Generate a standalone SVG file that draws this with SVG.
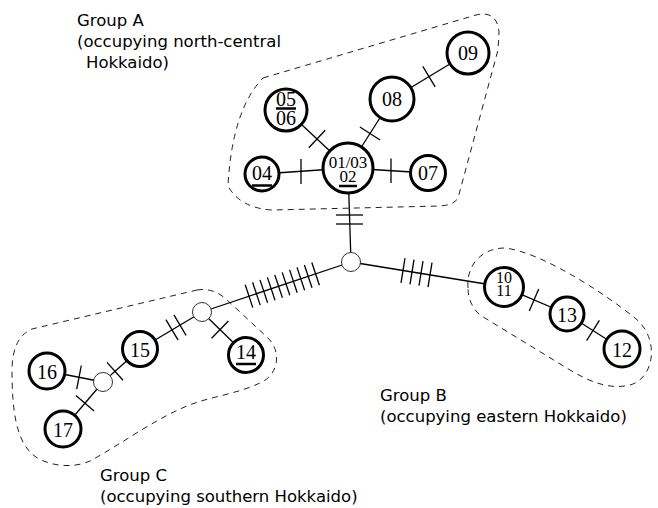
<svg xmlns="http://www.w3.org/2000/svg" width="658" height="508" viewBox="0 0 658 508">
<style>
.edge{stroke:#000;stroke-width:1.3;fill:none}
.tick{stroke:#000;stroke-width:1.3;fill:none}
.hap{fill:#fff;stroke:#000;stroke-width:3}
.med{fill:#fff;stroke:#333;stroke-width:1}
.num{font-family:"Liberation Serif","Times New Roman",serif;font-size:20px;fill:#000;text-anchor:middle}
.ul{stroke:#000;stroke-width:2.5}
.grp{fill:none;stroke:#222;stroke-width:1;stroke-dasharray:6,5}
.lbl{font-family:"DejaVu Sans",sans-serif;font-size:16.5px;fill:#000}
</style>
<rect width="658" height="508" fill="#fff"/>
<g id="outlines">
<path class="grp" d="M263,78 L476,15 Q497,10 499,32 L498,50 L458,198 Q454,205 440,206 L272,210 Q240,208 228,186 Q232,110 263,78 Z"/>
<path class="grp" d="M468,288 C466,265 482,248 505,248 C540,252 600,290 635,318 C660,338 655,378 630,385 C610,390 590,382 570,370 L480,315 C472,308 468,298 468,288 Z"/>
<path class="grp" d="M197,290 C208,288 218,292 226,299 L268,338 C282,352 278,374 262,382 C240,393 215,396 195,403 C160,415 120,445 90,461 C70,470 42,465 30,452 C16,437 12,410 12,370 C12,350 18,335 32,329 L197,290 Z"/>
</g>
<g id="connectors">
<line class="edge" x1="348" y1="168" x2="262" y2="174"/>
<line class="edge" x1="348" y1="168" x2="428" y2="173"/>
<line class="edge" x1="348" y1="168" x2="286" y2="110"/>
<line class="edge" x1="348" y1="168" x2="392" y2="99"/>
<line class="edge" x1="392" y1="99" x2="468" y2="53"/>
<line class="edge" x1="348" y1="168" x2="351" y2="262"/>
<line class="edge" x1="351" y1="262" x2="504" y2="287"/>
<line class="edge" x1="504" y1="287" x2="567" y2="314"/>
<line class="edge" x1="567" y1="314" x2="622" y2="349"/>
<line class="edge" x1="351" y1="262" x2="202" y2="312"/>
<line class="edge" x1="202" y1="312" x2="246" y2="355"/>
<line class="edge" x1="202" y1="312" x2="140" y2="349"/>
<line class="edge" x1="140" y1="349" x2="103" y2="382"/>
<line class="edge" x1="103" y1="382" x2="47" y2="371"/>
<line class="edge" x1="103" y1="382" x2="63" y2="429"/>
<!-- ticks -->
<line class="tick" x1="301" y1="159" x2="301" y2="184"/>
<line class="tick" x1="391" y1="158.5" x2="391" y2="183"/>
<line class="tick" x1="308.8" y1="147.8" x2="325.2" y2="130.2"/>
<line class="tick" x1="359.9" y1="127" x2="380.1" y2="140"/>
<line class="tick" x1="422.8" y1="66.3" x2="435.2" y2="86.9"/>
<line class="tick" x1="336" y1="215" x2="363" y2="215"/>
<line class="tick" x1="336" y1="224" x2="363" y2="224"/>
<line class="tick" x1="405" y1="258.2" x2="401" y2="282.8"/>
<line class="tick" x1="414" y1="259.7" x2="410" y2="284.3"/>
<line class="tick" x1="423" y1="261.1" x2="419" y2="285.7"/>
<line class="tick" x1="432" y1="262.6" x2="428" y2="287.2"/>
<line class="tick" x1="538.7" y1="288.9" x2="529.3" y2="310.9"/>
<line class="tick" x1="599.4" y1="320.4" x2="586.6" y2="340.6"/>
<line class="tick" x1="245.2" y1="284.8" x2="252.8" y2="307.6"/>
<line class="tick" x1="252.6" y1="282.3" x2="260.2" y2="305.1"/>
<line class="tick" x1="260" y1="279.9" x2="267.6" y2="302.7"/>
<line class="tick" x1="267.4" y1="277.4" x2="275" y2="300.2"/>
<line class="tick" x1="274.8" y1="274.9" x2="282.4" y2="297.7"/>
<line class="tick" x1="282.2" y1="272.4" x2="289.8" y2="295.2"/>
<line class="tick" x1="289.6" y1="269.9" x2="297.2" y2="292.7"/>
<line class="tick" x1="297" y1="267.4" x2="304.6" y2="290.2"/>
<line class="tick" x1="304.4" y1="265" x2="312" y2="287.8"/>
<line class="tick" x1="311.8" y1="262.5" x2="319.4" y2="285.3"/>
<line class="tick" x1="211.6" y1="338.2" x2="228.4" y2="321"/>
<line class="tick" x1="165.9" y1="319.6" x2="178.1" y2="340.2"/>
<line class="tick" x1="173.9" y1="314.8" x2="186.1" y2="335.4"/>
<line class="tick" x1="107" y1="362.4" x2="123" y2="380.2"/>
<line class="tick" x1="81.3" y1="365.5" x2="76.7" y2="389.1"/>
<line class="tick" x1="75.9" y1="395.4" x2="94.1" y2="411"/>
</g>
<g id="n09"><circle class="hap" cx="468" cy="53" r="21"/><text class="num" x="468" y="60">09</text></g>
<g id="n08"><circle class="hap" cx="392" cy="99" r="22"/><text class="num" x="392" y="106">08</text></g>
<g id="n0506"><circle class="hap" cx="286" cy="110" r="21"/><text class="num" x="286" y="106">05</text><line class="ul" x1="276" y1="108.5" x2="296" y2="108.5"/><text class="num" x="286" y="124.5">06</text></g>
<g id="n0103"><circle class="hap" cx="348" cy="168" r="25"/><text class="num" x="348" y="168" style="font-size:17px">01/03</text><text class="num" x="348" y="182" style="font-size:17px">02</text><line class="ul" x1="339" y1="186" x2="357" y2="186"/></g>
<g id="n04"><circle class="hap" cx="262" cy="174" r="17"/><text class="num" x="262" y="180">04</text><line class="ul" x1="252" y1="185.5" x2="272" y2="185.5"/></g>
<g id="n07"><circle class="hap" cx="428" cy="173" r="17.5"/><text class="num" x="428" y="180">07</text></g>
<g id="m1"><circle class="med" cx="351" cy="262" r="9.5"/></g>
<g id="n1011"><circle class="hap" cx="504" cy="287" r="19.5"/><text class="num" x="504" y="283" style="font-size:16px">10</text><text class="num" x="504" y="296" style="font-size:16px">11</text></g>
<g id="n13"><circle class="hap" cx="567" cy="314" r="17"/><text class="num" x="567" y="321.5">13</text></g>
<g id="n12"><circle class="hap" cx="622" cy="349" r="18"/><text class="num" x="622" y="357">12</text></g>
<g id="m2"><circle class="med" cx="202" cy="312" r="9.5"/></g>
<g id="n14"><circle class="hap" cx="246" cy="355" r="17.5"/><text class="num" x="246" y="359">14</text><line class="ul" x1="236" y1="364" x2="256" y2="364"/></g>
<g id="n15"><circle class="hap" cx="140" cy="349" r="17.5"/><text class="num" x="140" y="357">15</text></g>
<g id="m3"><circle class="med" cx="103" cy="382" r="9.5"/></g>
<g id="n16"><circle class="hap" cx="47" cy="371" r="18"/><text class="num" x="47" y="378.5">16</text></g>
<g id="n17"><circle class="hap" cx="63" cy="429" r="18"/><text class="num" x="63" y="436.5">17</text></g>
<g id="labelA"><text class="lbl" x="77" y="26">Group A</text><text class="lbl" x="77" y="47">(occupying north-central</text><text class="lbl" x="86" y="68">Hokkaido)</text></g>
<g id="labelB"><text class="lbl" x="380" y="401">Group B</text><text class="lbl" x="380" y="422">(occupying eastern Hokkaido)</text></g>
<g id="labelC"><text class="lbl" x="100" y="481">Group C</text><text class="lbl" x="100" y="502">(occupying southern Hokkaido)</text></g>
</svg>
